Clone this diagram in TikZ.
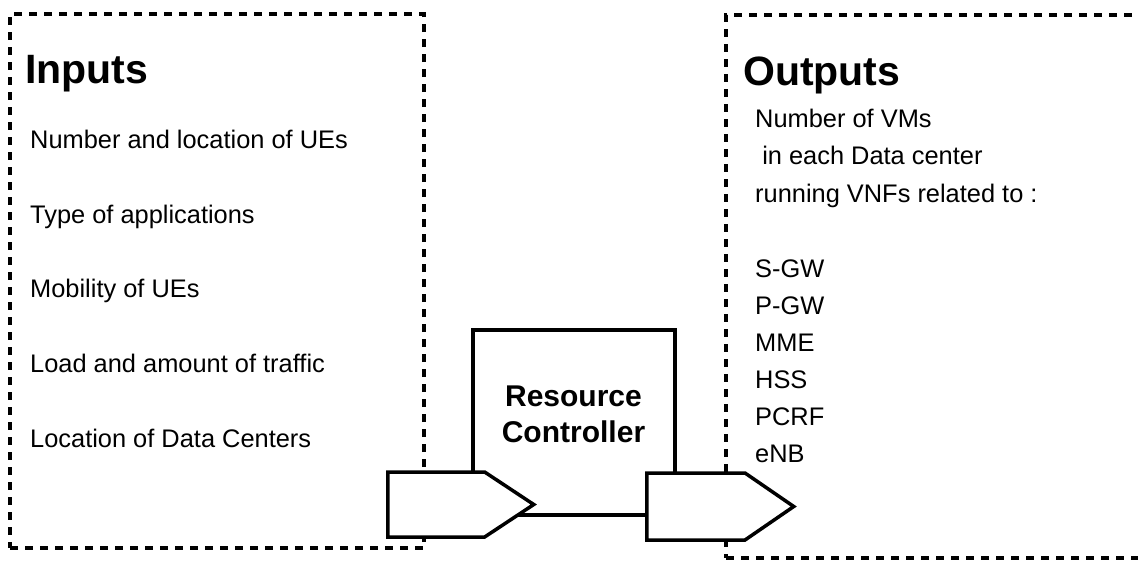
\documentclass[tikz,border=0pt]{standalone}
\usepackage{fontspec}
\setmainfont{Liberation Sans}
\usetikzlibrary{shapes.symbols}
\begin{document}
\begin{tikzpicture}[x=1pt,y=-1pt,
  frame/.style={draw=black, line width=3.3pt, dash pattern=on 8pt off 7pt, inner sep=0pt},
  title/.style={anchor=base west, inner sep=0pt, font=\fontsize{41}{49}\selectfont\bfseries},
  item/.style={anchor=base west, inner sep=0pt, font=\fontsize{25.4}{30}\selectfont},
  port/.style={signal, signal to=east, draw=black, fill=white, line width=3.5pt, inner sep=0pt, anchor=west},
  ctrlbox/.style={draw=black, line width=3.5pt, inner sep=0pt},
  ctrltext/.style={inner sep=0pt, align=center, font=\fontsize{30}{36}\selectfont\bfseries}]
\useasboundingbox (0,0) rectangle (1138,563);
\clip (0,0) rectangle (1138,563);
% dashed frames
\node[frame, minimum width=414pt, minimum height=534pt] (inframe) at (217,281) {};
\node[frame, minimum width=434pt, minimum height=543pt] (outframe) at (943,286.5) {};
% titles
\node[title] (intitle) at (25,83) {Inputs};
\node[title] (outtitle) at (743,85) {Outputs};
% inputs
\node[item] (i1) at (30,148) {Number and location of UEs};
\node[item] (i2) at (30,223) {Type of applications};
\node[item] (i3) at (30,297) {Mobility of UEs};
\node[item] (i4) at (30,372) {Load and amount of traffic};
\node[item] (i5) at (30,447) {Location of Data Centers};
% outputs
\node[item] (o1) at (755,127) {Number of VMs};
\node[item] (o2) at (755,164.5) {\ in each Data center};
\node[item] (o3) at (755,202) {running VNFs related to :};
\node[item] (o4) at (755,277) {S-GW};
\node[item] (o5) at (755,314) {P-GW};
\node[item] (o6) at (755,351) {MME};
\node[item] (o7) at (755,388) {HSS};
\node[item] (o8) at (755,425) {PCRF};
\node[item] (o9) at (755,462) {eNB};
% controller
\node[ctrlbox, minimum width=202pt, minimum height=185pt] (ctrl) at (574,422.5) {};
\node[ctrltext] (ctrllabel) at (573.5,414.5) {Resource\\Controller};
% ports
\node[port, minimum width=146pt, minimum height=65pt, signal pointer angle=67] (inport) at (386,504.5) {};
\node[port, minimum width=147pt, minimum height=67pt, signal pointer angle=69] (outport) at (645,506.5) {};
\end{tikzpicture}
\end{document}
